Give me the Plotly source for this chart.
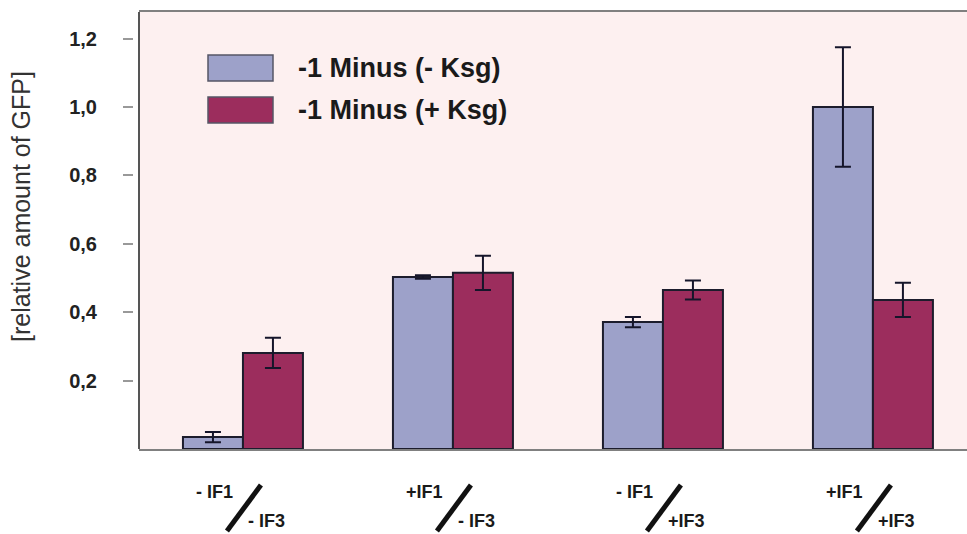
import plotly.graph_objects as go

# Data
categories = ["-IF1/-IF3", "+IF1/-IF3", "-IF1/+IF3", "+IF1/+IF3"]
if1_labels = ["- IF1", "+IF1", "- IF1", "+IF1"]
if3_labels = ["- IF3", "- IF3", "+IF3", "+IF3"]
series_names = ["-1 Minus (- Ksg)", "-1 Minus (+ Ksg)"]
minus_ksg = [0.035, 0.503, 0.371, 1.0]
minus_ksg_err = [0.015, 0.005, 0.015, 0.175]
plus_ksg = [0.281, 0.515, 0.465, 0.436]
plus_ksg_err = [0.044, 0.050, 0.028, 0.050]
y_tickvals = [0.2, 0.4, 0.6, 0.8, 1.0, 1.2]
y_ticktext = ["0,2", "0,4", "0,6", "0,8", "1,0", "1,2"]

# Layout geometry (pixels)
W, H = 967, 534
M_L, M_R, M_T, M_B = 133, 0, 12, 85
PLOT_W = W - M_L - M_R
PLOT_H = H - M_T - M_B


def px_x(px):
    return (px - M_L) / PLOT_W


def px_y(py):
    return (H - M_B - py) / PLOT_H


BLUE = "#9da1c9"
RED = "#9c2d5d"
EDGE = "#1c1c2c"
FONT = "Liberation Sans, Arial, sans-serif"

fig = go.Figure()
for name, vals, errs, color in [
    (series_names[0], minus_ksg, minus_ksg_err, BLUE),
    (series_names[1], plus_ksg, plus_ksg_err, RED),
]:
    fig.add_trace(go.Bar(
        x=list(range(len(categories))),
        y=vals,
        name=name,
        marker=dict(color=color, line=dict(color=EDGE, width=2)),
        error_y=dict(type="data", array=errs, visible=True,
                     color="#15152a", thickness=2, width=8),
        showlegend=False,
    ))

shapes = []
annotations = []

# Left frame line of the plot box
shapes.append(dict(type="line", xref="x domain", yref="y domain",
                   x0=0, x1=0, y0=0, y1=1,
                   line=dict(color="#555555", width=2), layer="above"))

# Legend swatches and labels
for i, (name, color) in enumerate(zip(series_names, [BLUE, RED])):
    top = 55 + i * 42
    shapes.append(dict(type="rect", xref="paper", yref="paper",
                       x0=px_x(208), x1=px_x(273), y0=px_y(top + 26), y1=px_y(top),
                       fillcolor=color, line=dict(color="#555566", width=1.5)))
    annotations.append(dict(xref="paper", yref="paper", x=px_x(296), y=px_y(top + 13),
                            text=name, showarrow=False, xanchor="left", yanchor="middle",
                            font=dict(family=FONT, size=27, color="#1a1a1a", weight="bold")))

# Category labels: "IF1 / IF3" split by a diagonal stroke
for i, (a, b) in enumerate(zip(if1_labels, if3_labels)):
    annotations.append(dict(xref="x", yref="paper", x=i - 28 / 210, y=px_y(492),
                            text=a, showarrow=False, xanchor="center", yanchor="middle",
                            font=dict(family=FONT, size=18, color="#1a1a1a", weight="bold")))
    annotations.append(dict(xref="x", yref="paper", x=i + 24 / 210, y=px_y(521),
                            text=b, showarrow=False, xanchor="center", yanchor="middle",
                            font=dict(family=FONT, size=18, color="#1a1a1a", weight="bold")))
    shapes.append(dict(type="line", xref="x", yref="paper",
                       x0=i - 16 / 210, y0=px_y(531), x1=i + 18 / 210, y1=px_y(485),
                       line=dict(color="#111111", width=5)))

# Y axis title
annotations.append(dict(xref="paper", yref="paper", x=px_x(21), y=px_y(207),
                        text="[relative amount of GFP]", showarrow=False, textangle=-90,
                        xanchor="center", yanchor="middle",
                        font=dict(family=FONT, size=25, color="#333333")))

fig.update_layout(
    width=W, height=H,
    margin=dict(l=M_L, r=M_R, t=M_T, b=M_B, pad=0),
    paper_bgcolor="white",
    plot_bgcolor="#fdf0f0",
    barmode="group",
    bargap=0.4286,
    bargroupgap=0,
    shapes=shapes,
    annotations=annotations,
    xaxis=dict(domain=[6 / PLOT_W, 1], range=[-0.495, 3.448], showticklabels=False,
               ticks="", showgrid=False, zeroline=False, showline=True,
               linecolor="#808080", linewidth=2, mirror=True),
    yaxis=dict(anchor="free", position=0, range=[0, (449 - 12) / 342],
               tickvals=y_tickvals, ticktext=y_ticktext, ticks="outside",
               ticklen=10, tickwidth=1.5, tickcolor="#999999",
               ticklabelstandoff=22, showgrid=False, zeroline=False, showline=False,
               tickfont=dict(family=FONT, size=20, color="#222222", weight="bold")),
)

fig.write_html("out.html")
